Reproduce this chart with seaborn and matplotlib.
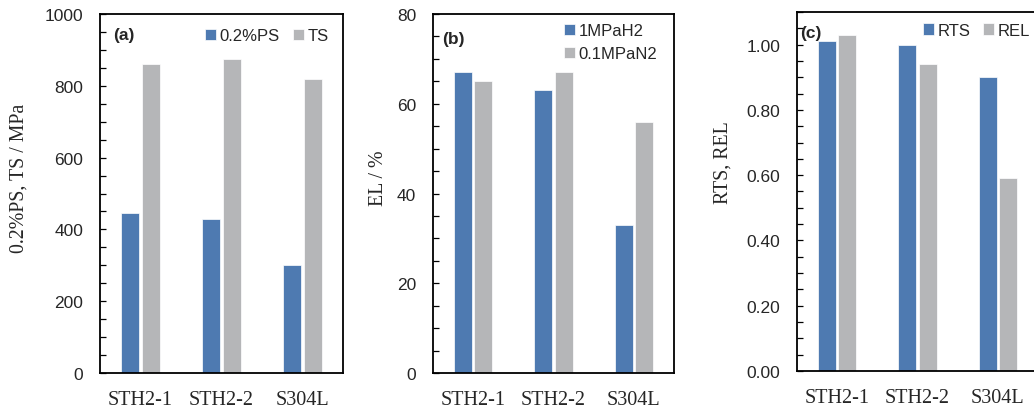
import matplotlib
matplotlib.use("Agg")
import matplotlib.pyplot as plt
import pandas as pd
import seaborn as sns
from matplotlib.ticker import MultipleLocator, FormatStrFormatter

# Materials tested
materials = ["STH2-1", "STH2-2", "S304L"]

# (a) 0.2% proof stress and tensile strength, MPa
ps_02 = [445, 430, 300]
ts = [860, 875, 818]

# (b) elongation, %
el_h2 = [67, 63, 33]
el_n2 = [65, 67, 56]

# (c) relative tensile strength and relative elongation
rts = [1.01, 1.00, 0.90]
rel = [1.03, 0.94, 0.59]

BLUE = "#4e7ab1"
GRAY = "#b5b6b8"

sns.set_style("white")
plt.rcParams["font.family"] = ["Liberation Sans", "DejaVu Sans"]

SANS = ["Liberation Sans", "DejaVu Sans"]
SERIF = ["Liberation Serif", "DejaVu Serif"]

fig = plt.figure(figsize=(10.34, 4.10), dpi=100)


def draw_panel(ax, names, v1, v2, ylim, major, minor, fmt, ylabel, tag,
               leg_anchor, leg_ncol, lab_xy, tag_xy):
    df = pd.DataFrame({
        "material": materials * 2,
        "series": [names[0]] * len(materials) + [names[1]] * len(materials),
        "value": list(v1) + list(v2),
    })
    sns.barplot(data=df, x="material", y="value", hue="series",
                order=materials, hue_order=names, palette=[BLUE, GRAY],
                saturation=1, width=0.51, gap=0.12, errorbar=None,
                edgecolor="white", linewidth=0.5, ax=ax)
    ax.set_ylim(*ylim)
    ax.set_xlim(-0.5, len(materials) - 0.5)
    ax.yaxis.set_major_locator(MultipleLocator(major))
    ax.yaxis.set_minor_locator(MultipleLocator(minor))
    ax.yaxis.set_major_formatter(FormatStrFormatter(fmt))
    ax.tick_params(axis="y", which="both", direction="in", length=4.5,
                   width=0.9, color="black", left=True, pad=12,
                   labelsize=12.5)
    ax.tick_params(axis="x", length=0, pad=12)
    for lbl in ax.get_yticklabels():
        lbl.set_fontfamily(SANS)
    for lbl in ax.get_xticklabels():
        lbl.set_fontfamily(SERIF)
        lbl.set_fontsize(14.5)
    ax.set_xlabel("")
    ax.set_ylabel(ylabel, family=SERIF, fontsize=14.3, va="center")
    ax.yaxis.set_label_coords(*lab_xy)
    for sp in ax.spines.values():
        sp.set_visible(True)
        sp.set_color("black")
        sp.set_linewidth(1.3)
    handles, labels = ax.get_legend_handles_labels()
    ax.legend(handles, labels, loc="upper right", bbox_to_anchor=leg_anchor,
              ncol=leg_ncol, frameon=False, fontsize=12, handlelength=0.66,
              handleheight=0.66, handletextpad=0.2, columnspacing=0.8,
              labelspacing=0.5, borderaxespad=0, borderpad=0)
    ax.text(tag_xy[0], tag_xy[1], tag, transform=ax.transAxes, ha="left",
            va="top", fontsize=12.5, fontweight="bold", family=SANS)


ax_a = fig.add_axes([0.0967, 0.0878, 0.235, 0.8756])
draw_panel(ax_a, ["0.2%PS", "TS"], ps_02, ts, (0, 1000), 200, 50, "%d",
           "0.2%PS, TS / MPa", "(a)", (0.94, 0.96), 2, (-0.335, 0.546),
           (0.053, 0.963))

ax_b = fig.add_axes([0.4188, 0.0878, 0.2331, 0.8756])
draw_panel(ax_b, ["1MPaH2", "0.1MPaN2"], el_h2, el_n2, (0, 80), 20, 5, "%d",
           "EL / %", "(b)", (0.93, 0.975), 1, (-0.228, 0.546),
           (0.037, 0.953))

ax_c = fig.add_axes([0.7708, 0.0927, 0.2331, 0.8756])
draw_panel(ax_c, ["RTS", "REL"], rts, rel, (0, 1.1), 0.2, 0.05, "%.2f",
           "RTS, REL", "(c)", (0.967, 0.97), 2, (-0.305, 0.582),
           (0.012, 0.963))

fig.savefig("out.png", dpi=100)
